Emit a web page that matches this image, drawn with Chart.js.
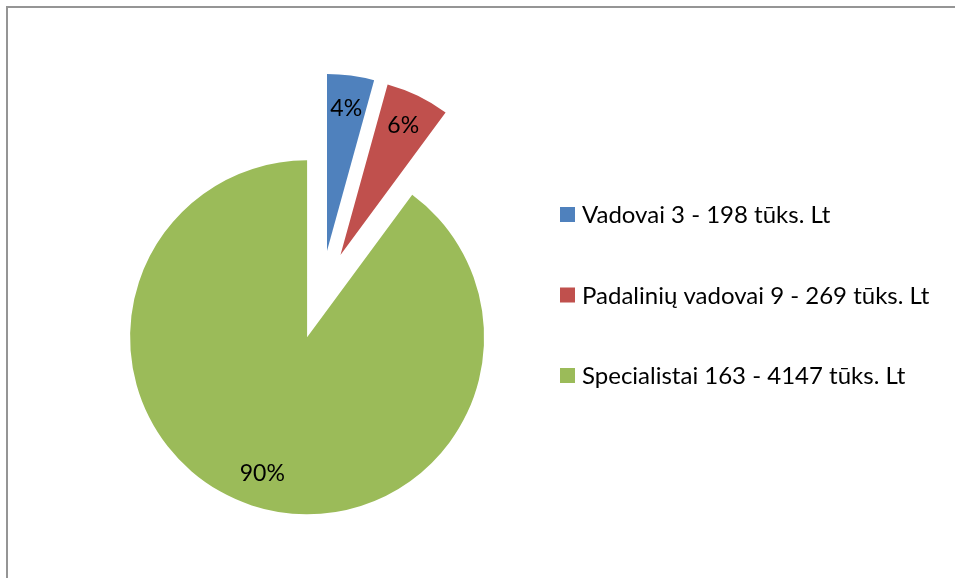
<!DOCTYPE html>
<html>
<head>
<meta charset="utf-8">
<script src="https://cdn.jsdelivr.net/npm/chart.js@4/dist/chart.umd.min.js"></script>
<style>
  html, body { margin: 0; padding: 0; background: #fff; }
  #frame { position: absolute; left: 6px; top: 6px; width: 1000px; height: 700px;
           border-left: 2px solid #959595; border-top: 2px solid #959595; }
  #pie { position: absolute; left: 0; top: 0; }
</style>
</head>
<body>
<div id="frame"></div>
<canvas id="pie" width="955" height="578"></canvas>
<script>
'use strict';

const categories = ['Vadovai 3 - 198 tūks. Lt', 'Padalinių vadovai 9 - 269 tūks. Lt', 'Specialistai 163 - 4147 tūks. Lt'];
const amounts = [198, 269, 4147];
const sliceColors = ['#4F81BD', '#C0504D', '#9BBB59'];

const FONT = 'Lato';

// each slice is pulled out of the centre like in Excel
const explodePlugin = {
    id: 'explode',
    afterDatasetsUpdate(chart, args, opts) {
        const meta = chart.getDatasetMeta(0);
        meta.data.forEach(arc => {
            const mid = (arc.startAngle + arc.endAngle) / 2;
            arc.x += Math.cos(mid) * opts.distance;
            arc.y += Math.sin(mid) * opts.distance;
        });
    }
};

// percentage labels inside the slices
const percentPlugin = {
    id: 'percentLabels',
    afterDatasetsDraw(chart, args, opts) {
        const ctx = chart.ctx;
        const meta = chart.getDatasetMeta(0);
        const values = chart.data.datasets[0].data;
        const total = values.reduce((a, b) => a + b, 0);
        ctx.save();
        ctx.font = opts.font;
        ctx.fillStyle = '#000';
        ctx.textAlign = 'center';
        ctx.textBaseline = 'middle';
        meta.data.forEach((arc, i) => {
            const mid = (arc.startAngle + arc.endAngle) / 2;
            const r = arc.outerRadius * opts.ratio;
            const pct = Math.round(values[i] / total * 100) + '%';
            ctx.fillText(pct, arc.x + Math.cos(mid) * r, arc.y + Math.sin(mid) * r);
        });
        ctx.restore();
    }
};

// legend on the right, square markers
const sideLegendPlugin = {
    id: 'sideLegend',
    afterDraw(chart, args, opts) {
        const ctx = chart.ctx;
        const colors = chart.data.datasets[0].backgroundColor;
        ctx.save();
        ctx.font = opts.font;
        ctx.textBaseline = 'alphabetic';
        chart.data.labels.forEach((label, i) => {
            const base = opts.top + i * opts.step;
            ctx.fillStyle = colors[i];
            ctx.fillRect(opts.left, base - 16, opts.box, opts.box);
            ctx.fillStyle = '#000';
            ctx.fillText(label, opts.left + 22, base);
        });
        ctx.restore();
    }
};

const chartConfig = {
    type: 'pie',
    data: {
        labels: categories,
        datasets: [{
            data: amounts,
            backgroundColor: sliceColors,
            borderWidth: 0,
            clip: false
        }]
    },
    options: {
        responsive: false,
        animation: false,
        events: [],
        radius: 177,
        layout: { padding: { left: 0, right: 313, top: 12, bottom: 0 } },
        plugins: {
            legend: { display: false },
            tooltip: { enabled: false },
            explode: { distance: 44.5 },
            percentLabels: { font: '23px ' + FONT, ratio: 0.81 },
            sideLegend: { font: '24px ' + FONT, left: 560, top: 223, step: 80.5, box: 15 }
        }
    },
    plugins: [explodePlugin, percentPlugin, sideLegendPlugin]
};

new Chart(document.getElementById('pie'), chartConfig);
</script>
</body>
</html>
